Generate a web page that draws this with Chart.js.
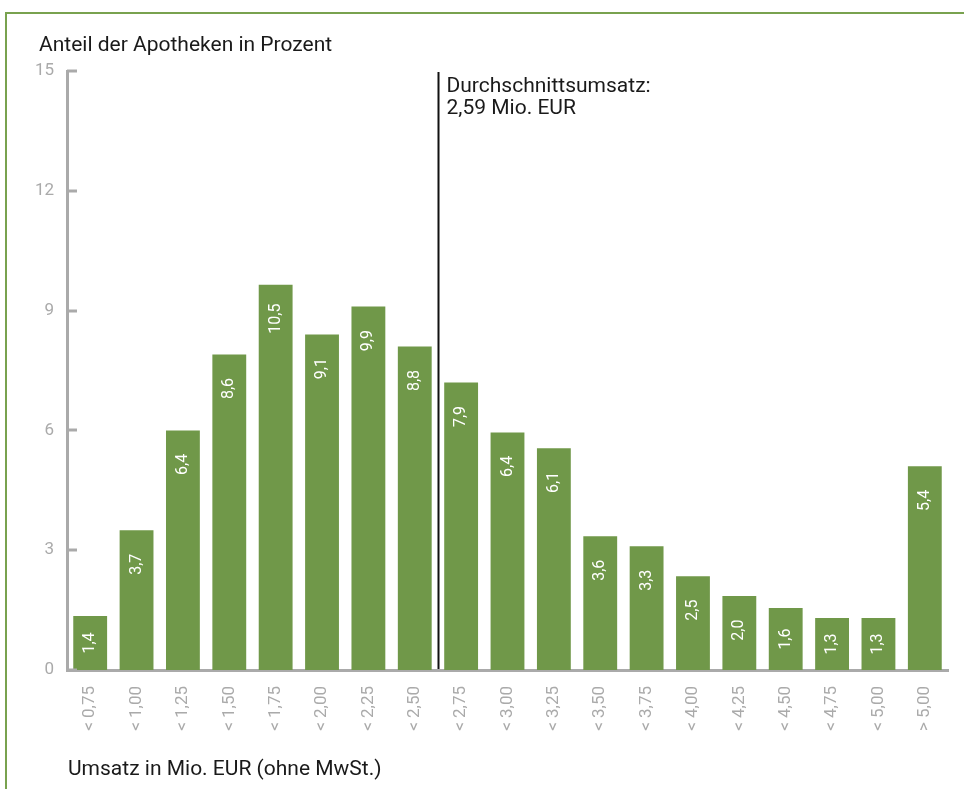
<!DOCTYPE html>
<html>
<head>
<meta charset="utf-8">
<script src="https://cdn.jsdelivr.net/npm/chart.js@4"></script>
<style>
  body { margin: 0; background: #fff; }
  #wrap { position: relative; width: 964px; height: 789px; }
  #frame { position: absolute; left: 5px; top: 12px; right: 0; bottom: 0; border-top: 2px solid #79a24f; border-left: 2px solid #79a24f; }
  canvas { position: absolute; left: 0; top: 0; }
</style>
</head>
<body>
<div id="wrap">
  <div id="frame"></div>
  <canvas id="umsatzChart" width="964" height="789"></canvas>
</div>
<script>
// Umsatzklassen (Mio. EUR)
const categories = ["< 0,75", "< 1,00", "< 1,25", "< 1,50", "< 1,75", "< 2,00", "< 2,25", "< 2,50", "< 2,75",
    "< 3,00", "< 3,25", "< 3,50", "< 3,75", "< 4,00", "< 4,25", "< 4,50", "< 4,75", "< 5,00", "> 5,00"];
// Balkenhöhen wie im Bild gezeichnet
const barValues = [1.35, 3.5, 6.0, 7.9, 9.65, 8.4, 9.1, 8.1, 7.2, 5.95, 5.55, 3.35, 3.1, 2.35, 1.85, 1.55, 1.3, 1.3, 5.1];
// Beschriftungen in den Balken
const barLabels = ["1,4", "3,7", "6,4", "8,6", "10,5", "9,1", "9,9", "8,8", "7,9", "6,4", "6,1", "3,6", "3,3", "2,5", "2,0", "1,6", "1,3", "1,3", "5,4"];
const yTicks = [0, 3, 6, 9, 12, 15];
// Durchschnitt liegt zwischen "< 2,50" und "< 2,75"
const avgIndex = 7.5;
const avgText = ["Durchschnittsumsatz:", "2,59 Mio. EUR"];
const yTitle = "Anteil der Apotheken in Prozent";
const xTitle = "Umsatz in Mio. EUR (ohne MwSt.)";

const FONT = "Roboto, 'Open Sans', sans-serif";
const GREEN = "#709849";
const GREY = "#aaaaaa";

const extras = {
    id: "extras",
    afterDatasetsDraw(chart) {
        const ctx = chart.ctx;
        const x = chart.scales.x;
        const y = chart.scales.y;
        const meta = chart.getDatasetMeta(0);
        ctx.save();

        // Striche an der y-Achse nach innen
        ctx.strokeStyle = GREY;
        ctx.lineWidth = 3;
        yTicks.forEach(t => {
            const py = Math.round(y.getPixelForValue(t));
            ctx.beginPath();
            ctx.moveTo(chart.chartArea.left, py);
            ctx.lineTo(chart.chartArea.left + 10, py);
            ctx.stroke();
        });

        // Werte in den Balken
        ctx.fillStyle = "#ffffff";
        ctx.font = "16px " + FONT;
        ctx.textAlign = "center";
        ctx.textBaseline = "middle";
        meta.data.forEach((bar, i) => {
            const mid = (bar.y + bar.base) / 2;
            const cy = Math.min(bar.y + 34, mid);
            ctx.save();
            ctx.translate(bar.x, cy);
            ctx.rotate(-Math.PI / 2);
            ctx.fillText(barLabels[i], 0, 0);
            ctx.restore();
        });

        // Durchschnittslinie
        const ax = Math.round(x.getPixelForValue(avgIndex)) + 0.5;
        ctx.strokeStyle = "#111111";
        ctx.lineWidth = 2;
        ctx.beginPath();
        ctx.moveTo(ax, y.getPixelForValue(15) + 1);
        ctx.lineTo(ax, y.getPixelForValue(0) - 1);
        ctx.stroke();

        ctx.fillStyle = "#1a1a1a";
        ctx.font = "21px " + FONT;
        ctx.textAlign = "left";
        ctx.textBaseline = "alphabetic";
        ctx.fillText(avgText[0], ax + 8, 92);
        ctx.fillText(avgText[1], ax + 8, 114);

        // Achsentitel
        ctx.fillText(yTitle, 39, 51);
        ctx.fillText(xTitle, 68, 775);
        ctx.restore();
    }
};

const ctx = document.getElementById("umsatzChart").getContext("2d");
new Chart(ctx, {
    type: "bar",
    data: {
        labels: categories,
        datasets: [{
            data: barValues,
            backgroundColor: GREEN,
            barPercentage: 0.73,
            categoryPercentage: 1.0
        }]
    },
    options: {
        responsive: false,
        animation: false,
        events: [],
        layout: { padding: { top: 71, right: 16, left: 0, bottom: 0 } },
        scales: {
            x: {
                grid: { display: false, drawTicks: false },
                border: { display: true, color: GREY, width: 3 },
                ticks: {
                    color: GREY,
                    font: { family: FONT, size: 17 },
                    maxRotation: 90,
                    minRotation: 90,
                    padding: 16,
                    autoSkip: false
                },
                afterFit(scale) { scale.height = 119; }
            },
            y: {
                min: 0,
                max: 15,
                grid: { display: false, drawTicks: false },
                border: { display: true, color: GREY, width: 3 },
                ticks: {
                    stepSize: 3,
                    color: GREY,
                    font: { family: FONT, size: 17 },
                    padding: 13
                },
                afterFit(scale) { scale.width = 67; }
            }
        },
        plugins: {
            legend: { display: false },
            tooltip: { enabled: false }
        }
    },
    plugins: [extras]
});
</script>
</body>
</html>
